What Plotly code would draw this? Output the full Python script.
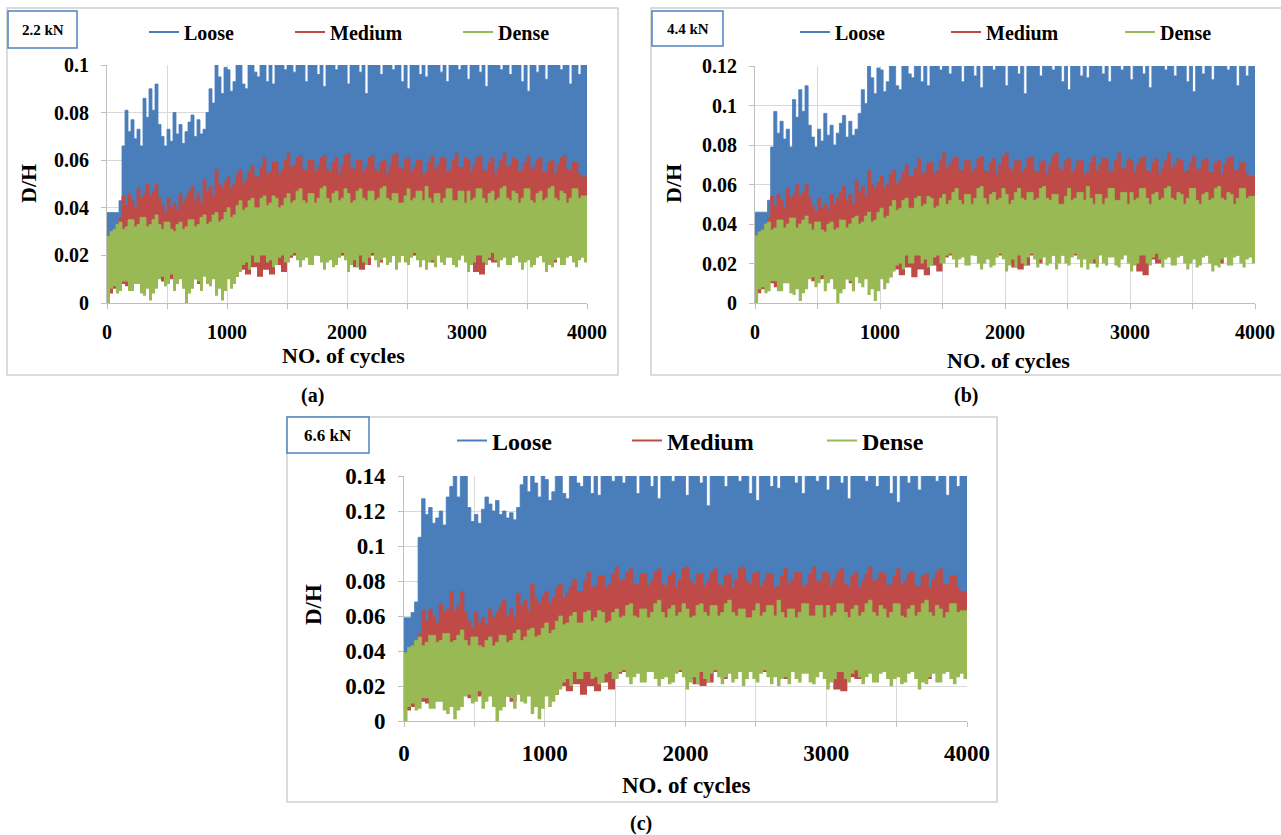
import plotly.graph_objects as go

# Sampling positions (load cycles) of the envelope readings
CYC_25 = list(range(0, 4001, 25))
CYC_50 = list(range(0, 4001, 50))
CYC_200 = list(range(0, 4001, 200))

# ---------------- 2.2 kN ----------------
loose_hi_22 = [
    0.038, 0.038, 0.038, 0.038, 0.043, 0.066, 0.081, 0.072, 0.077, 0.069,
    0.073, 0.066, 0.086, 0.078, 0.090, 0.081, 0.092, 0.075, 0.070, 0.066,
    0.073, 0.068, 0.080, 0.071, 0.075, 0.067, 0.072, 0.076, 0.079, 0.070,
    0.077, 0.071, 0.073, 0.080, 0.090, 0.084, 0.104, 0.095, 0.088, 0.099,
    0.098, 0.089, 0.093, 0.104, 0.104, 0.092, 0.090, 0.104, 0.104, 0.097,
    0.095, 0.104, 0.104, 0.093, 0.104, 0.092, 0.104, 0.104, 0.104, 0.098,
    0.104, 0.104, 0.097, 0.104, 0.104, 0.104, 0.093, 0.104, 0.104, 0.104,
    0.096, 0.104, 0.091, 0.104, 0.104, 0.104, 0.098, 0.104, 0.104, 0.104,
    0.092, 0.104, 0.104, 0.104, 0.097, 0.104, 0.088, 0.104, 0.104, 0.104,
    0.104, 0.096, 0.104, 0.104, 0.104, 0.098, 0.104, 0.104, 0.093, 0.104,
    0.090, 0.104, 0.104, 0.104, 0.096, 0.104, 0.095, 0.104, 0.104, 0.104,
    0.104, 0.097, 0.104, 0.093, 0.104, 0.104, 0.104, 0.098, 0.104, 0.104,
    0.094, 0.104, 0.104, 0.104, 0.097, 0.104, 0.091, 0.104, 0.104, 0.104,
    0.104, 0.098, 0.104, 0.104, 0.096, 0.104, 0.104, 0.104, 0.093, 0.104,
    0.089, 0.104, 0.104, 0.097, 0.104, 0.104, 0.094, 0.104, 0.104, 0.104,
    0.104, 0.098, 0.104, 0.104, 0.092, 0.104, 0.104, 0.096, 0.104, 0.104,
    0.104]
loose_lo_22 = [0.025, 0.035, 0.035, 0.035, 0.037, 0.045, 0.045, 0.048, 0.048, 0.048,
               0.048, 0.048, 0.048, 0.048, 0.048, 0.048, 0.048, 0.048, 0.048, 0.048, 0.048]
medium_hi_22 = [
    0.027, 0.029, 0.030, 0.032, 0.036, 0.045, 0.041, 0.046, 0.043, 0.040,
    0.048, 0.044, 0.046, 0.050, 0.045, 0.047, 0.050, 0.044, 0.041, 0.038,
    0.044, 0.040, 0.042, 0.039, 0.046, 0.042, 0.044, 0.047, 0.049, 0.043,
    0.046, 0.042, 0.052, 0.047, 0.049, 0.045, 0.056, 0.050, 0.048, 0.051,
    0.053, 0.048, 0.050, 0.054, 0.056, 0.050, 0.052, 0.055, 0.058, 0.053,
    0.053, 0.057, 0.061, 0.054, 0.055, 0.059, 0.059, 0.054, 0.056, 0.060,
    0.063, 0.057, 0.058, 0.061, 0.062, 0.056, 0.056, 0.060, 0.060, 0.055,
    0.057, 0.061, 0.062, 0.056, 0.055, 0.059, 0.061, 0.054, 0.058, 0.062,
    0.063, 0.057, 0.056, 0.060, 0.060, 0.055, 0.057, 0.061, 0.062, 0.056,
    0.055, 0.059, 0.060, 0.054, 0.058, 0.062, 0.063, 0.057, 0.056, 0.060,
    0.061, 0.055, 0.057, 0.060, 0.060, 0.054, 0.055, 0.059, 0.062, 0.056,
    0.058, 0.061, 0.061, 0.055, 0.056, 0.060, 0.063, 0.057, 0.057, 0.061,
    0.060, 0.055, 0.058, 0.061, 0.062, 0.056, 0.055, 0.059, 0.061, 0.054,
    0.057, 0.060, 0.063, 0.057, 0.058, 0.061, 0.060, 0.055, 0.056, 0.059,
    0.062, 0.056, 0.057, 0.060, 0.061, 0.055, 0.055, 0.059, 0.060, 0.054,
    0.058, 0.061, 0.062, 0.056, 0.056, 0.059, 0.059, 0.054, 0.053, 0.053,
    0.053]
medium_lo_22 = [
    0.004, 0.006, 0.008, 0.007, 0.010, 0.009, 0.012, 0.011, 0.012, 0.009,
    0.010, 0.011, 0.012, 0.012, 0.010, 0.008, 0.012, 0.012, 0.012, 0.011,
    0.012, 0.011, 0.014, 0.012, 0.015, 0.011, 0.014, 0.012, 0.016, 0.013,
    0.019, 0.020, 0.021, 0.020, 0.021, 0.020, 0.021, 0.020, 0.021, 0.020,
    0.017, 0.015, 0.014, 0.016, 0.020, 0.017, 0.021, 0.020, 0.021, 0.020,
    0.021, 0.020, 0.021, 0.020, 0.017, 0.021, 0.020, 0.021, 0.020, 0.021,
    0.019, 0.013, 0.012, 0.018, 0.017, 0.021, 0.020, 0.021, 0.020, 0.021,
    0.020, 0.021, 0.020, 0.021, 0.017, 0.020, 0.021, 0.020, 0.021, 0.020,
    0.020]
dense_hi_22 = [
    0.028, 0.030, 0.031, 0.033, 0.034, 0.031, 0.032, 0.035, 0.035, 0.032,
    0.033, 0.036, 0.036, 0.032, 0.033, 0.035, 0.037, 0.033, 0.031, 0.034,
    0.034, 0.031, 0.030, 0.033, 0.034, 0.031, 0.032, 0.035, 0.035, 0.032,
    0.033, 0.036, 0.037, 0.033, 0.034, 0.037, 0.038, 0.034, 0.035, 0.038,
    0.040, 0.036, 0.037, 0.041, 0.043, 0.039, 0.040, 0.043, 0.044, 0.040,
    0.040, 0.044, 0.045, 0.041, 0.042, 0.045, 0.044, 0.040, 0.041, 0.044,
    0.046, 0.042, 0.043, 0.047, 0.048, 0.043, 0.042, 0.046, 0.046, 0.042,
    0.044, 0.048, 0.049, 0.044, 0.042, 0.046, 0.047, 0.043, 0.044, 0.048,
    0.046, 0.042, 0.043, 0.047, 0.048, 0.044, 0.043, 0.047, 0.047, 0.043,
    0.044, 0.048, 0.049, 0.044, 0.043, 0.046, 0.046, 0.042, 0.042, 0.045,
    0.048, 0.043, 0.044, 0.047, 0.047, 0.043, 0.049, 0.044, 0.042, 0.046,
    0.046, 0.042, 0.044, 0.048, 0.048, 0.043, 0.043, 0.047, 0.047, 0.042,
    0.047, 0.043, 0.044, 0.048, 0.048, 0.044, 0.042, 0.046, 0.047, 0.043,
    0.044, 0.048, 0.049, 0.044, 0.043, 0.047, 0.046, 0.042, 0.044, 0.048,
    0.048, 0.043, 0.042, 0.046, 0.047, 0.043, 0.044, 0.048, 0.049, 0.044,
    0.043, 0.047, 0.046, 0.042, 0.044, 0.048, 0.048, 0.044, 0.045, 0.045,
    0.045]
dense_lo_22 = [
    0.000, 0.006, 0.007, 0.004, 0.005, 0.009, 0.009, 0.005, 0.005, 0.008,
    0.008, 0.004, 0.003, 0.006, 0.001, 0.004, 0.006, 0.010, 0.011, 0.007,
    0.008, 0.012, 0.005, 0.008, 0.010, 0.006, 0.000, 0.004, 0.006, 0.010,
    0.009, 0.005, 0.011, 0.008, 0.007, 0.010, 0.003, 0.006, 0.001, 0.005,
    0.010, 0.006, 0.008, 0.011, 0.013, 0.016, 0.017, 0.014, 0.020, 0.017,
    0.017, 0.020, 0.020, 0.017, 0.018, 0.015, 0.016, 0.019, 0.020, 0.017,
    0.017, 0.020, 0.021, 0.018, 0.015, 0.018, 0.019, 0.016, 0.016, 0.020,
    0.020, 0.017, 0.014, 0.017, 0.018, 0.015, 0.016, 0.019, 0.021, 0.018,
    0.013, 0.016, 0.018, 0.015, 0.020, 0.017, 0.016, 0.019, 0.021, 0.018,
    0.015, 0.018, 0.019, 0.016, 0.017, 0.020, 0.014, 0.017, 0.020, 0.017,
    0.016, 0.019, 0.021, 0.018, 0.015, 0.018, 0.014, 0.017, 0.018, 0.015,
    0.020, 0.017, 0.016, 0.019, 0.019, 0.016, 0.015, 0.018, 0.020, 0.017,
    0.013, 0.016, 0.017, 0.020, 0.020, 0.017, 0.016, 0.019, 0.021, 0.018,
    0.015, 0.018, 0.019, 0.016, 0.016, 0.019, 0.020, 0.017, 0.014, 0.017,
    0.018, 0.015, 0.016, 0.019, 0.020, 0.017, 0.013, 0.016, 0.015, 0.018,
    0.019, 0.016, 0.016, 0.019, 0.020, 0.017, 0.015, 0.018, 0.019, 0.017,
    0.017]

# ---------------- 4.4 kN ----------------
loose_hi_44 = [
    0.046, 0.046, 0.046, 0.046, 0.052, 0.079, 0.097, 0.086, 0.092, 0.083,
    0.088, 0.079, 0.103, 0.094, 0.108, 0.097, 0.110, 0.090, 0.084, 0.079,
    0.088, 0.082, 0.096, 0.085, 0.090, 0.080, 0.086, 0.091, 0.095, 0.084,
    0.092, 0.085, 0.088, 0.096, 0.108, 0.101, 0.125, 0.114, 0.106, 0.119,
    0.118, 0.107, 0.112, 0.125, 0.125, 0.110, 0.108, 0.125, 0.125, 0.116,
    0.114, 0.125, 0.125, 0.112, 0.125, 0.110, 0.125, 0.125, 0.125, 0.118,
    0.125, 0.125, 0.116, 0.125, 0.125, 0.125, 0.112, 0.125, 0.125, 0.125,
    0.115, 0.125, 0.109, 0.125, 0.125, 0.125, 0.118, 0.125, 0.125, 0.125,
    0.110, 0.125, 0.125, 0.125, 0.116, 0.125, 0.106, 0.125, 0.125, 0.125,
    0.125, 0.115, 0.125, 0.125, 0.125, 0.118, 0.125, 0.125, 0.112, 0.125,
    0.108, 0.125, 0.125, 0.125, 0.115, 0.125, 0.114, 0.125, 0.125, 0.125,
    0.125, 0.116, 0.125, 0.112, 0.125, 0.125, 0.125, 0.118, 0.125, 0.125,
    0.113, 0.125, 0.125, 0.125, 0.116, 0.125, 0.109, 0.125, 0.125, 0.125,
    0.125, 0.118, 0.125, 0.125, 0.115, 0.125, 0.125, 0.125, 0.112, 0.125,
    0.107, 0.125, 0.125, 0.116, 0.125, 0.125, 0.113, 0.125, 0.125, 0.125,
    0.125, 0.118, 0.125, 0.125, 0.110, 0.125, 0.125, 0.115, 0.125, 0.125,
    0.125]
loose_lo_44 = [0.030, 0.042, 0.042, 0.042, 0.044, 0.054, 0.054, 0.058, 0.058, 0.058,
               0.058, 0.058, 0.058, 0.058, 0.058, 0.058, 0.058, 0.058, 0.058, 0.058, 0.058]
medium_hi_44 = [
    0.032, 0.035, 0.036, 0.038, 0.043, 0.054, 0.049, 0.055, 0.052, 0.048,
    0.058, 0.053, 0.055, 0.060, 0.054, 0.056, 0.060, 0.053, 0.049, 0.046,
    0.053, 0.048, 0.050, 0.047, 0.055, 0.050, 0.053, 0.056, 0.059, 0.052,
    0.055, 0.050, 0.062, 0.056, 0.059, 0.054, 0.067, 0.060, 0.058, 0.061,
    0.064, 0.058, 0.060, 0.065, 0.067, 0.060, 0.062, 0.066, 0.070, 0.064,
    0.064, 0.068, 0.073, 0.065, 0.066, 0.071, 0.071, 0.065, 0.067, 0.072,
    0.076, 0.068, 0.070, 0.073, 0.074, 0.067, 0.067, 0.072, 0.072, 0.066,
    0.068, 0.073, 0.074, 0.067, 0.066, 0.071, 0.073, 0.065, 0.070, 0.074,
    0.076, 0.068, 0.067, 0.072, 0.072, 0.066, 0.068, 0.073, 0.074, 0.067,
    0.066, 0.071, 0.072, 0.065, 0.070, 0.074, 0.076, 0.068, 0.067, 0.072,
    0.073, 0.066, 0.068, 0.072, 0.072, 0.065, 0.066, 0.071, 0.074, 0.067,
    0.070, 0.073, 0.073, 0.066, 0.067, 0.072, 0.076, 0.068, 0.068, 0.073,
    0.072, 0.066, 0.070, 0.073, 0.074, 0.067, 0.066, 0.071, 0.073, 0.065,
    0.068, 0.072, 0.076, 0.068, 0.070, 0.073, 0.072, 0.066, 0.067, 0.071,
    0.074, 0.067, 0.068, 0.072, 0.073, 0.066, 0.066, 0.071, 0.072, 0.065,
    0.070, 0.073, 0.074, 0.067, 0.067, 0.071, 0.071, 0.065, 0.064, 0.064,
    0.064]
medium_lo_44 = [
    0.005, 0.007, 0.010, 0.008, 0.012, 0.011, 0.014, 0.013, 0.014, 0.011,
    0.012, 0.013, 0.014, 0.014, 0.012, 0.010, 0.014, 0.014, 0.014, 0.013,
    0.014, 0.013, 0.017, 0.014, 0.018, 0.013, 0.017, 0.014, 0.019, 0.016,
    0.023, 0.024, 0.025, 0.024, 0.025, 0.024, 0.025, 0.024, 0.025, 0.024,
    0.020, 0.018, 0.017, 0.019, 0.024, 0.020, 0.025, 0.024, 0.025, 0.024,
    0.025, 0.024, 0.025, 0.024, 0.020, 0.025, 0.024, 0.025, 0.024, 0.025,
    0.023, 0.016, 0.014, 0.022, 0.020, 0.025, 0.024, 0.025, 0.024, 0.025,
    0.024, 0.025, 0.024, 0.025, 0.020, 0.024, 0.025, 0.024, 0.025, 0.024,
    0.024]
dense_hi_44 = [
    0.034, 0.036, 0.037, 0.040, 0.041, 0.037, 0.038, 0.042, 0.042, 0.038,
    0.040, 0.043, 0.043, 0.038, 0.040, 0.042, 0.044, 0.040, 0.037, 0.041,
    0.041, 0.037, 0.036, 0.040, 0.041, 0.037, 0.038, 0.042, 0.042, 0.038,
    0.040, 0.043, 0.044, 0.040, 0.041, 0.044, 0.046, 0.041, 0.042, 0.046,
    0.048, 0.043, 0.044, 0.049, 0.052, 0.047, 0.048, 0.052, 0.053, 0.048,
    0.048, 0.053, 0.054, 0.049, 0.050, 0.054, 0.053, 0.048, 0.049, 0.053,
    0.055, 0.050, 0.052, 0.056, 0.058, 0.052, 0.050, 0.055, 0.055, 0.050,
    0.053, 0.058, 0.059, 0.053, 0.050, 0.055, 0.056, 0.052, 0.053, 0.058,
    0.055, 0.050, 0.052, 0.056, 0.058, 0.053, 0.052, 0.056, 0.056, 0.052,
    0.053, 0.058, 0.059, 0.053, 0.052, 0.055, 0.055, 0.050, 0.050, 0.054,
    0.058, 0.052, 0.053, 0.056, 0.056, 0.052, 0.059, 0.053, 0.050, 0.055,
    0.055, 0.050, 0.053, 0.058, 0.058, 0.052, 0.052, 0.056, 0.056, 0.050,
    0.056, 0.052, 0.053, 0.058, 0.058, 0.053, 0.050, 0.055, 0.056, 0.052,
    0.053, 0.058, 0.059, 0.053, 0.052, 0.056, 0.055, 0.050, 0.053, 0.058,
    0.058, 0.052, 0.050, 0.055, 0.056, 0.052, 0.053, 0.058, 0.059, 0.053,
    0.052, 0.056, 0.055, 0.050, 0.053, 0.058, 0.058, 0.053, 0.054, 0.054,
    0.054]
dense_lo_44 = [
    0.000, 0.007, 0.008, 0.005, 0.006, 0.011, 0.011, 0.006, 0.006, 0.010,
    0.010, 0.005, 0.004, 0.007, 0.001, 0.005, 0.007, 0.012, 0.013, 0.008,
    0.010, 0.014, 0.006, 0.010, 0.012, 0.007, 0.000, 0.005, 0.007, 0.012,
    0.011, 0.006, 0.013, 0.010, 0.008, 0.012, 0.004, 0.007, 0.001, 0.006,
    0.012, 0.007, 0.010, 0.013, 0.016, 0.019, 0.020, 0.017, 0.024, 0.020,
    0.020, 0.024, 0.024, 0.020, 0.022, 0.018, 0.019, 0.023, 0.024, 0.020,
    0.020, 0.024, 0.025, 0.022, 0.018, 0.022, 0.023, 0.019, 0.019, 0.024,
    0.024, 0.020, 0.017, 0.020, 0.022, 0.018, 0.019, 0.023, 0.025, 0.022,
    0.016, 0.019, 0.022, 0.018, 0.024, 0.020, 0.019, 0.023, 0.025, 0.022,
    0.018, 0.022, 0.023, 0.019, 0.020, 0.024, 0.017, 0.020, 0.024, 0.020,
    0.019, 0.023, 0.025, 0.022, 0.018, 0.022, 0.017, 0.020, 0.022, 0.018,
    0.024, 0.020, 0.019, 0.023, 0.023, 0.019, 0.018, 0.022, 0.024, 0.020,
    0.016, 0.019, 0.020, 0.024, 0.024, 0.020, 0.019, 0.023, 0.025, 0.022,
    0.018, 0.022, 0.023, 0.019, 0.019, 0.023, 0.024, 0.020, 0.017, 0.020,
    0.022, 0.018, 0.019, 0.023, 0.024, 0.020, 0.016, 0.019, 0.018, 0.022,
    0.023, 0.019, 0.019, 0.023, 0.024, 0.020, 0.018, 0.022, 0.023, 0.020,
    0.020]

# ---------------- 6.6 kN ----------------
loose_hi_66 = [
    0.059, 0.059, 0.062, 0.068, 0.105, 0.127, 0.118, 0.122, 0.113, 0.116,
    0.120, 0.112, 0.128, 0.134, 0.140, 0.128, 0.146, 0.146, 0.122, 0.114,
    0.118, 0.113, 0.121, 0.128, 0.124, 0.120, 0.126, 0.118, 0.120, 0.116,
    0.119, 0.115, 0.122, 0.135, 0.140, 0.131, 0.146, 0.136, 0.128, 0.140,
    0.138, 0.126, 0.131, 0.146, 0.146, 0.130, 0.127, 0.146, 0.146, 0.136,
    0.134, 0.146, 0.146, 0.130, 0.146, 0.129, 0.146, 0.146, 0.146, 0.137,
    0.146, 0.146, 0.136, 0.146, 0.146, 0.146, 0.130, 0.146, 0.146, 0.146,
    0.134, 0.146, 0.127, 0.146, 0.146, 0.146, 0.137, 0.146, 0.146, 0.146,
    0.129, 0.146, 0.146, 0.146, 0.136, 0.146, 0.123, 0.146, 0.146, 0.146,
    0.146, 0.134, 0.146, 0.146, 0.146, 0.137, 0.146, 0.146, 0.130, 0.146,
    0.126, 0.146, 0.146, 0.146, 0.134, 0.146, 0.133, 0.146, 0.146, 0.146,
    0.146, 0.136, 0.146, 0.130, 0.146, 0.146, 0.146, 0.137, 0.146, 0.146,
    0.132, 0.146, 0.146, 0.146, 0.136, 0.146, 0.127, 0.146, 0.146, 0.146,
    0.146, 0.137, 0.146, 0.146, 0.134, 0.146, 0.146, 0.146, 0.130, 0.146,
    0.125, 0.146, 0.146, 0.136, 0.146, 0.146, 0.132, 0.146, 0.146, 0.146,
    0.146, 0.137, 0.146, 0.146, 0.129, 0.146, 0.146, 0.134, 0.146, 0.146,
    0.146]
loose_lo_66 = [0.033, 0.049, 0.049, 0.049, 0.052, 0.063, 0.063, 0.067, 0.067, 0.067,
               0.067, 0.067, 0.067, 0.067, 0.067, 0.067, 0.067, 0.067, 0.067, 0.067, 0.067]
medium_hi_66 = [
    0.038, 0.041, 0.042, 0.045, 0.050, 0.063, 0.057, 0.064, 0.060, 0.056,
    0.067, 0.062, 0.064, 0.074, 0.063, 0.066, 0.074, 0.062, 0.057, 0.053,
    0.062, 0.056, 0.059, 0.055, 0.064, 0.059, 0.062, 0.066, 0.069, 0.060,
    0.064, 0.059, 0.073, 0.066, 0.069, 0.063, 0.078, 0.070, 0.067, 0.071,
    0.074, 0.067, 0.070, 0.076, 0.078, 0.070, 0.073, 0.077, 0.081, 0.074,
    0.074, 0.080, 0.085, 0.076, 0.077, 0.083, 0.083, 0.076, 0.078, 0.084,
    0.088, 0.080, 0.081, 0.085, 0.087, 0.078, 0.078, 0.084, 0.084, 0.077,
    0.080, 0.085, 0.087, 0.078, 0.077, 0.083, 0.085, 0.076, 0.081, 0.087,
    0.088, 0.080, 0.078, 0.084, 0.084, 0.077, 0.080, 0.085, 0.087, 0.078,
    0.077, 0.083, 0.084, 0.076, 0.081, 0.087, 0.088, 0.080, 0.078, 0.084,
    0.085, 0.077, 0.080, 0.084, 0.084, 0.076, 0.077, 0.083, 0.087, 0.078,
    0.081, 0.085, 0.085, 0.077, 0.078, 0.084, 0.088, 0.080, 0.080, 0.085,
    0.084, 0.077, 0.081, 0.085, 0.087, 0.078, 0.077, 0.083, 0.085, 0.076,
    0.080, 0.084, 0.088, 0.080, 0.081, 0.085, 0.084, 0.077, 0.078, 0.083,
    0.087, 0.078, 0.080, 0.084, 0.085, 0.077, 0.077, 0.083, 0.084, 0.076,
    0.081, 0.085, 0.087, 0.078, 0.078, 0.083, 0.083, 0.076, 0.074, 0.074,
    0.074]
medium_lo_66 = [
    0.006, 0.008, 0.011, 0.010, 0.014, 0.013, 0.017, 0.015, 0.017, 0.013,
    0.014, 0.015, 0.017, 0.017, 0.014, 0.011, 0.017, 0.017, 0.017, 0.015,
    0.017, 0.015, 0.020, 0.017, 0.021, 0.015, 0.020, 0.017, 0.022, 0.018,
    0.027, 0.028, 0.029, 0.028, 0.029, 0.028, 0.029, 0.028, 0.029, 0.028,
    0.024, 0.021, 0.020, 0.022, 0.028, 0.024, 0.029, 0.028, 0.029, 0.028,
    0.029, 0.028, 0.029, 0.028, 0.024, 0.029, 0.028, 0.029, 0.028, 0.029,
    0.027, 0.018, 0.017, 0.025, 0.024, 0.029, 0.028, 0.029, 0.028, 0.029,
    0.028, 0.029, 0.028, 0.029, 0.024, 0.028, 0.029, 0.028, 0.029, 0.028,
    0.028]
dense_hi_66 = [
    0.039, 0.042, 0.043, 0.046, 0.048, 0.043, 0.045, 0.049, 0.049, 0.045,
    0.046, 0.050, 0.050, 0.045, 0.046, 0.049, 0.052, 0.046, 0.043, 0.048,
    0.048, 0.043, 0.042, 0.046, 0.048, 0.043, 0.045, 0.049, 0.049, 0.045,
    0.046, 0.050, 0.052, 0.046, 0.048, 0.052, 0.053, 0.048, 0.049, 0.053,
    0.056, 0.050, 0.052, 0.057, 0.060, 0.055, 0.056, 0.060, 0.062, 0.056,
    0.056, 0.062, 0.063, 0.057, 0.059, 0.063, 0.062, 0.056, 0.057, 0.062,
    0.064, 0.059, 0.060, 0.066, 0.067, 0.060, 0.059, 0.064, 0.064, 0.059,
    0.062, 0.067, 0.069, 0.062, 0.059, 0.064, 0.066, 0.060, 0.062, 0.067,
    0.064, 0.059, 0.060, 0.066, 0.067, 0.062, 0.060, 0.066, 0.066, 0.060,
    0.062, 0.067, 0.069, 0.062, 0.060, 0.064, 0.064, 0.059, 0.059, 0.063,
    0.067, 0.060, 0.062, 0.066, 0.066, 0.060, 0.069, 0.062, 0.059, 0.064,
    0.064, 0.059, 0.062, 0.067, 0.067, 0.060, 0.060, 0.066, 0.066, 0.059,
    0.066, 0.060, 0.062, 0.067, 0.067, 0.062, 0.059, 0.064, 0.066, 0.060,
    0.062, 0.067, 0.069, 0.062, 0.060, 0.066, 0.064, 0.059, 0.062, 0.067,
    0.067, 0.060, 0.059, 0.064, 0.066, 0.060, 0.062, 0.067, 0.069, 0.062,
    0.060, 0.066, 0.064, 0.059, 0.062, 0.067, 0.067, 0.062, 0.063, 0.063,
    0.063]
dense_lo_66 = [
    0.000, 0.008, 0.010, 0.006, 0.007, 0.013, 0.013, 0.007, 0.007, 0.011,
    0.011, 0.006, 0.004, 0.008, 0.001, 0.006, 0.008, 0.014, 0.015, 0.010,
    0.011, 0.017, 0.007, 0.011, 0.014, 0.008, 0.000, 0.006, 0.008, 0.014,
    0.013, 0.007, 0.015, 0.011, 0.010, 0.014, 0.004, 0.008, 0.001, 0.007,
    0.014, 0.008, 0.011, 0.015, 0.018, 0.022, 0.024, 0.020, 0.028, 0.024,
    0.024, 0.028, 0.028, 0.024, 0.025, 0.021, 0.022, 0.027, 0.028, 0.024,
    0.024, 0.028, 0.029, 0.025, 0.021, 0.025, 0.027, 0.022, 0.022, 0.028,
    0.028, 0.024, 0.020, 0.024, 0.025, 0.021, 0.022, 0.027, 0.029, 0.025,
    0.018, 0.022, 0.025, 0.021, 0.028, 0.024, 0.022, 0.027, 0.029, 0.025,
    0.021, 0.025, 0.027, 0.022, 0.024, 0.028, 0.020, 0.024, 0.028, 0.024,
    0.022, 0.027, 0.029, 0.025, 0.021, 0.025, 0.020, 0.024, 0.025, 0.021,
    0.028, 0.024, 0.022, 0.027, 0.027, 0.022, 0.021, 0.025, 0.028, 0.024,
    0.018, 0.022, 0.024, 0.028, 0.028, 0.024, 0.022, 0.027, 0.029, 0.025,
    0.021, 0.025, 0.027, 0.022, 0.022, 0.027, 0.028, 0.024, 0.020, 0.024,
    0.025, 0.021, 0.022, 0.027, 0.028, 0.024, 0.018, 0.022, 0.021, 0.025,
    0.027, 0.022, 0.022, 0.027, 0.028, 0.024, 0.021, 0.025, 0.027, 0.024,
    0.024]

SERIES_NAMES = ["Loose", "Medium", "Dense"]
COLORS = {"Loose": "#4A7EBB", "Medium": "#BE4B48", "Dense": "#98B954"}

W, H = 1281, 835
GRID = "#D9D9D9"
AXIS = "#BFBFBF"
FONT = "Liberation Serif"


def px(x):
    return x / W


def py(y):
    return 1 - y / H


# Panel layout: plot area in pixels, axis maximum, fonts, legend and caption placement
panels = [
    dict(tag="a", load="2.2 kN", ymax=0.10, area=(107, 587, 65, 303), tick=20, title=22,
         legend_x=(151, 297, 465), legend_y=32, leg_size=20,
         box=(8, 77, 11, 48), box_size=15, frame=(7, 618, 8, 375),
         ytitle=(28, 184), xtitle=(343, 356), caption=(312, 395),
         data={"Loose": (loose_hi_22, CYC_25, loose_lo_22, CYC_200),
               "Medium": (medium_hi_22, CYC_25, medium_lo_22, CYC_50),
               "Dense": (dense_hi_22, CYC_25, dense_lo_22, CYC_25)}),
    dict(tag="b", load="4.4 kN", ymax=0.12, area=(755, 1255, 66, 303), tick=20, title=22,
         legend_x=(802, 953, 1127), legend_y=32, leg_size=20,
         box=(652, 723, 11, 46), box_size=15, frame=(651, 1290, 8, 375),
         ytitle=(673, 184), xtitle=(1008, 360), caption=(966, 395),
         data={"Loose": (loose_hi_44, CYC_25, loose_lo_44, CYC_200),
               "Medium": (medium_hi_44, CYC_25, medium_lo_44, CYC_50),
               "Dense": (dense_hi_44, CYC_25, dense_lo_44, CYC_25)}),
    dict(tag="c", load="6.6 kN", ymax=0.14, area=(404, 967, 476, 721), tick=23, title=23,
         legend_x=(459, 634, 829), legend_y=441, leg_size=24,
         box=(287, 369, 417, 453), box_size=17, frame=(287, 997, 417, 802),
         ytitle=(313, 605), xtitle=(686, 785), caption=(641, 823),
         data={"Loose": (loose_hi_66, CYC_25, loose_lo_66, CYC_200),
               "Medium": (medium_hi_66, CYC_25, medium_lo_66, CYC_50),
               "Dense": (dense_hi_66, CYC_25, dense_lo_66, CYC_25)}),
]

fig = go.Figure()
shapes, annotations = [], []
legend_no = 0


def text_note(x, y, text, size, angle=0):
    return dict(x=px(x), y=py(y), xref="paper", yref="paper", text=text,
                xanchor="center", yanchor="middle", showarrow=False, textangle=angle,
                font=dict(family=FONT, size=size, color="black", weight="bold"))


for i, p in enumerate(panels):
    suffix = "" if i == 0 else str(i + 1)
    xa, ya = "x" + suffix, "y" + suffix
    x0, x1, yt, yb = p["area"]
    font_tick = dict(family=FONT, size=p["tick"], color="black", weight="bold")

    fig.layout["xaxis" + suffix] = dict(
        domain=[px(x0), px(x1)], anchor=ya, range=[0, 4000], tick0=0, dtick=1000,
        showgrid=True, gridcolor=GRID, gridwidth=1, zeroline=False,
        showline=True, linecolor=AXIS, linewidth=1,
        ticks="outside", ticklen=5, tickcolor=AXIS, ticklabelstandoff=6,
        minor=dict(dtick=500, tick0=0, showgrid=True, gridcolor=GRID,
                   ticks="outside", ticklen=5, tickcolor=AXIS),
        tickfont=font_tick, fixedrange=True)
    fig.layout["yaxis" + suffix] = dict(
        domain=[py(yb), py(yt)], anchor=xa, range=[0, p["ymax"]], tick0=0, dtick=0.02,
        showgrid=True, gridcolor=GRID, gridwidth=1, zeroline=False,
        showline=True, linecolor=AXIS, linewidth=1,
        ticks="outside", ticklen=5, tickcolor=AXIS, ticklabelstandoff=8,
        tickfont=font_tick, fixedrange=True)

    # Filled bands: lower envelope first, upper envelope filled down to it
    for name in SERIES_NAMES:
        hi, hi_x, lo, lo_x = p["data"][name]
        color = COLORS[name]
        fig.add_trace(go.Scatter(x=lo_x, y=lo, mode="lines", xaxis=xa, yaxis=ya,
                                 line=dict(color=color, width=0, shape="hv"),
                                 showlegend=False, hoverinfo="skip"))
        fig.add_trace(go.Scatter(x=hi_x, y=hi, mode="lines", xaxis=xa, yaxis=ya,
                                 line=dict(color=color, width=0.8, shape="hv"),
                                 fill="tonexty", fillcolor=color,
                                 showlegend=False, name=name))

    # One legend entry per series, each in its own legend box
    for name, lx in zip(SERIES_NAMES, p["legend_x"]):
        legend_no += 1
        lid = "legend" if legend_no == 1 else "legend%d" % legend_no
        fig.add_trace(go.Scatter(x=[None], y=[None], mode="lines", name=name,
                                 xaxis=xa, yaxis=ya, legend=lid,
                                 line=dict(color=COLORS[name], width=2)))
        fig.layout[lid] = dict(x=px(lx - 7), y=py(p["legend_y"]), xanchor="left",
                               yanchor="middle", orientation="h",
                               bgcolor="rgba(0,0,0,0)", borderwidth=0,
                               font=dict(family=FONT, size=p["leg_size"], color="black",
                                         weight="bold"))

    # Outer chart frame and load tag box
    fx0, fx1, fy0, fy1 = p["frame"]
    shapes.append(dict(type="rect", xref="paper", yref="paper", x0=px(fx0), x1=px(fx1),
                       y0=py(fy1), y1=py(fy0), line=dict(color="#D0D0D0", width=1.5),
                       layer="below"))
    bx0, bx1, by0, by1 = p["box"]
    shapes.append(dict(type="rect", xref="paper", yref="paper", x0=px(bx0), x1=px(bx1),
                       y0=py(by1), y1=py(by0), line=dict(color="#4F81BD", width=1.5),
                       fillcolor="white"))
    annotations.append(text_note((bx0 + bx1) / 2, (by0 + by1) / 2, p["load"], p["box_size"]))

    # Axis titles and caption
    annotations.append(text_note(*p["ytitle"], "D/H", p["title"], angle=-90))
    annotations.append(text_note(*p["xtitle"], "NO. of cycles", p["title"]))
    annotations.append(text_note(*p["caption"], "(%s)" % p["tag"], 20))

fig.update_layout(width=W, height=H, autosize=False,
                  margin=dict(l=0, r=0, t=0, b=0, pad=0, autoexpand=False),
                  paper_bgcolor="white", plot_bgcolor="white",
                  shapes=shapes, annotations=annotations, hovermode=False)

fig.write_html("out.html")
